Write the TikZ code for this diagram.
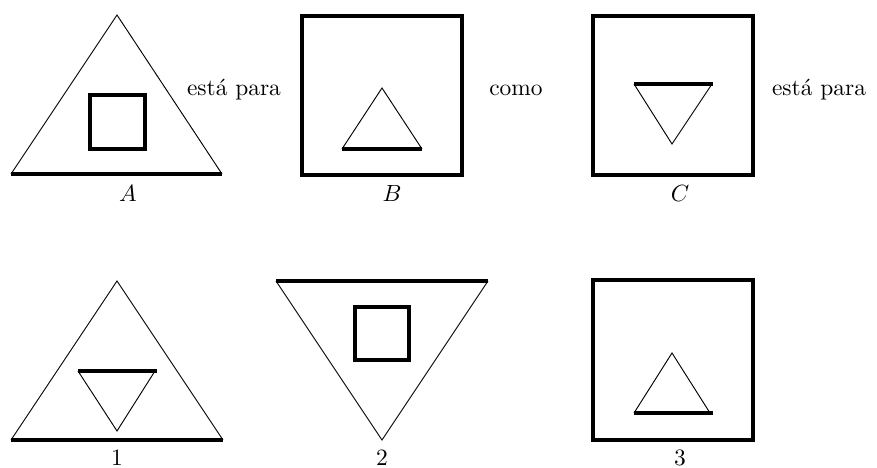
\documentclass[tikz,border=0pt]{standalone}
\usepackage{tikz}
\usetikzlibrary{positioning}

\begin{document}
\begin{tikzpicture}[x=0.015cm,y=-0.015cm,
    diag/.style={line width=0.4pt},
    bar/.style={line width=1.3pt},
    lbl/.style={anchor=base,inner sep=0pt}]
  \useasboundingbox (0,0) rectangle (877,468);
  % upper row: A, B, C
  \draw[diag] (11,174)--(117,15)--(222,174);
  \draw[bar] (11,174)--(222,174);
  \draw[bar] (90,95) rectangle (145,149);
  \node[lbl] (labA) at (128,202) {$A$};
  \node[lbl] (rel1) at (234,96) {está para};
  \draw[bar] (302,16) rectangle (462,175);
  \draw[diag] (342,149)--(382,88)--(422,149);
  \draw[bar] (342,149)--(422,149);
  \node[lbl] (labB) at (392,202) {$B$};
  \node[lbl] (rel2) at (516,96) {como};
  \draw[bar] (593,16) rectangle (753,175);
  \draw[diag] (634,84)--(672,144)--(712,84);
  \draw[bar] (634,84)--(713,84);
  \node[lbl] (labC) at (680,202) {$C$};
  \node[lbl] (rel3) at (819,96) {está para};
  % lower row: 1, 2, 3
  \draw[diag] (11,440)--(117,281)--(223,440);
  \draw[bar] (11,440)--(223,440);
  \draw[diag] (78,371)--(117,431)--(155,371);
  \draw[bar] (78,371)--(157,371);
  \node[lbl] (opt1) at (117,466) {1};
  \draw[diag] (276,281)--(382,440)--(488,281);
  \draw[bar] (276,281)--(488,281);
  \draw[bar] (355,307) rectangle (409,360);
  \node[lbl] (opt2) at (382,466) {2};
  \draw[bar] (593,280) rectangle (753,440);
  \draw[diag] (634,413)--(672,353)--(710,413);
  \draw[bar] (634,413)--(713,413);
  \node[lbl] (opt3) at (680,466) {3};
\end{tikzpicture}
\end{document}
